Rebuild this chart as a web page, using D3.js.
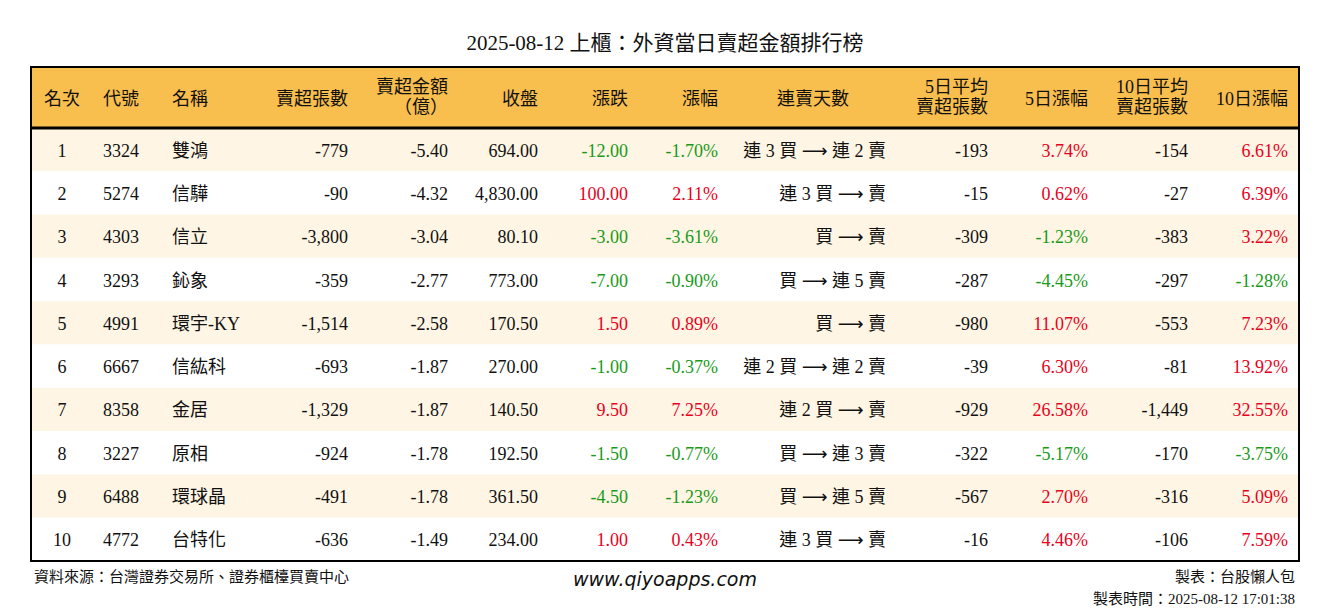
<!DOCTYPE html>
<html>
<head>
<meta charset="UTF-8">
<script src="https://cdnjs.cloudflare.com/ajax/libs/d3/7.8.5/d3.min.js"></script>
<style>
  body { margin: 0; background: #fff; }
  text { font-family: "Liberation Serif", "Noto Sans CJK TC", serif; }
</style>
</head>
<body>
<div id="chart"></div>
<script>
var ranks = [1,2,3,4,5,6,7,8,9,10];
var codes = ["3324","5274","4303","3293","4991","6667","8358","3227","6488","4772"];
var names = ["雙鴻","信驊","信立","鈊象","環宇-KY","信紘科","金居","原相","環球晶","台特化"];
var sellLots = ["-779","-90","-3,800","-359","-1,514","-693","-1,329","-924","-491","-636"];
var sellAmt = ["-5.40","-4.32","-3.04","-2.77","-2.58","-1.87","-1.87","-1.78","-1.78","-1.49"];
var closes = ["694.00","4,830.00","80.10","773.00","170.50","270.00","140.50","192.50","361.50","234.00"];
var changes = [-12.00,100.00,-3.00,-7.00,1.50,-1.00,9.50,-1.50,-4.50,1.00];
var changePct = [-1.70,2.11,-3.61,-0.90,0.89,-0.37,7.25,-0.77,-1.23,0.43];
var streaks = ["連 3 買 → 連 2 賣","連 3 買 → 賣","買 → 賣","買 → 連 5 賣","買 → 賣","連 2 買 → 連 2 賣","連 2 買 → 賣","買 → 連 3 賣","買 → 連 5 賣","連 3 買 → 賣"];
var avg5 = ["-193","-15","-309","-287","-980","-39","-929","-322","-567","-16"];
var pct5 = [3.74,0.62,-1.23,-4.45,11.07,6.30,26.58,-5.17,2.70,4.46];
var avg10 = ["-154","-27","-383","-297","-553","-81","-1,449","-170","-316","-106"];
var pct10 = [6.61,6.39,3.22,-1.28,7.23,13.92,32.55,-3.75,5.09,7.59];

(function() {
var W = 1330, H = 612;
var svg = d3.select("#chart").append("svg").attr("width", W).attr("height", H);

var x0 = 31, x1 = 1299, y0 = 67, headH = 61, y1 = 561;
var y = d3.scaleBand().domain(d3.range(10)).range([y0 + headH, y1]);

var red = "#e8001c", green = "#1a9a1a";
function col(v) { return v > 0 ? red : (v < 0 ? green : "#111"); }

var cols = [
  {h: ["名次"], hx: 44, ha: "start", x: 62, a: "middle", v: function(i){ return ranks[i]; }},
  {h: ["代號"], hx: 103, ha: "start", x: 103, a: "start", v: function(i){ return codes[i]; }},
  {h: ["名稱"], hx: 172, ha: "start", x: 172, a: "start", v: function(i){ return names[i]; }},
  {h: ["賣超張數"], hx: 348, ha: "end", x: 348, a: "end", v: function(i){ return sellLots[i]; }},
  {h: ["賣超金額", "（億）"], hx: 448, ha: "end", x: 448, a: "end", v: function(i){ return sellAmt[i]; }},
  {h: ["收盤"], hx: 538, ha: "end", x: 538, a: "end", v: function(i){ return closes[i]; }},
  {h: ["漲跌"], hx: 628, ha: "end", x: 628, a: "end", v: function(i){ return changes[i].toFixed(2); }, c: function(i){ return col(changes[i]); }},
  {h: ["漲幅"], hx: 718, ha: "end", x: 718, a: "end", v: function(i){ return changePct[i].toFixed(2) + "%"; }, c: function(i){ return col(changePct[i]); }},
  {h: ["連賣天數"], hx: 813, ha: "middle", x: 886, a: "end", v: function(i){ return streaks[i]; }, arrow: true},
  {h: ["5日平均", "賣超張數"], hx: 988, ha: "end", x: 988, a: "end", v: function(i){ return avg5[i]; }},
  {h: ["5日漲幅"], hx: 1088, ha: "end", x: 1088, a: "end", v: function(i){ return pct5[i].toFixed(2) + "%"; }, c: function(i){ return col(pct5[i]); }},
  {h: ["10日平均", "賣超張數"], hx: 1188, ha: "end", x: 1188, a: "end", v: function(i){ return avg10[i]; }},
  {h: ["10日漲幅"], hx: 1288, ha: "end", x: 1288, a: "end", v: function(i){ return pct10[i].toFixed(2) + "%"; }, c: function(i){ return col(pct10[i]); }}
];

svg.append("text").attr("x", W / 2).attr("y", 50).attr("text-anchor", "middle")
  .attr("font-size", 21).attr("fill", "#111").text("2025-08-12 上櫃：外資當日賣超金額排行榜");

svg.append("rect").attr("x", x0).attr("y", y0).attr("width", x1 - x0).attr("height", headH)
  .attr("fill", "#f8be4e");

svg.selectAll("rect.row").data(d3.range(10)).enter().append("rect").attr("class", "row")
  .attr("x", x0).attr("y", function(i){ return y(i); })
  .attr("width", x1 - x0).attr("height", y.bandwidth())
  .attr("fill", function(i){ return i % 2 === 0 ? "#fef5e4" : "#ffffff"; });

cols.forEach(function(c) {
  var n = c.h.length;
  c.h.forEach(function(line, k) {
    svg.append("text").attr("x", c.hx).attr("text-anchor", c.ha)
      .attr("y", n === 1 ? y0 + headH / 2 + 7 : y0 + 26 + k * 20)
      .attr("font-size", 18).attr("fill", "#111").text(line);
  });
});

cols.forEach(function(c) {
  var t = svg.selectAll(null).data(d3.range(10)).enter().append("text")
    .attr("x", c.x).attr("text-anchor", c.a)
    .attr("y", function(i){ return y(i) + y.bandwidth() / 2 + 7; })
    .attr("font-size", 18)
    .attr("fill", function(i){ return c.c ? c.c(i) : "#111"; });
  if (c.arrow) {
    t.each(function(i) {
      var parts = c.v(i).split("→"), el = d3.select(this);
      el.append("tspan").text(parts[0]);
      el.append("tspan").style("font-family", "'DejaVu Sans', sans-serif").attr("font-size", 18).text("⟶");
      el.append("tspan").text(parts[1]);
    });
  } else {
    t.text(function(i){ return c.v(i); });
  }
});

svg.append("line").attr("x1", x0).attr("x2", x1).attr("y1", y0 + headH).attr("y2", y0 + headH)
  .attr("stroke", "#000").attr("stroke-width", 3);
svg.append("rect").attr("x", x0).attr("y", y0).attr("width", x1 - x0).attr("height", y1 - y0)
  .attr("fill", "none").attr("stroke", "#000").attr("stroke-width", 2);

svg.append("text").attr("x", 34).attr("y", 582).attr("font-size", 15).attr("fill", "#111")
  .text("資料來源：台灣證券交易所、證券櫃檯買賣中心");
svg.append("text").attr("x", 665).attr("y", 586).attr("text-anchor", "middle")
  .attr("font-size", 19).attr("font-style", "italic").attr("fill", "#111")
  .style("font-family", "'DejaVu Sans', sans-serif").text("www.qiyoapps.com");
svg.append("text").attr("x", 1295).attr("y", 582).attr("text-anchor", "end").attr("font-size", 15).attr("fill", "#111")
  .text("製表：台股懶人包");
svg.append("text").attr("x", 1295).attr("y", 604).attr("text-anchor", "end").attr("font-size", 15).attr("fill", "#111")
  .text("製表時間：2025-08-12 17:01:38");
})();
</script>
</body>
</html>
